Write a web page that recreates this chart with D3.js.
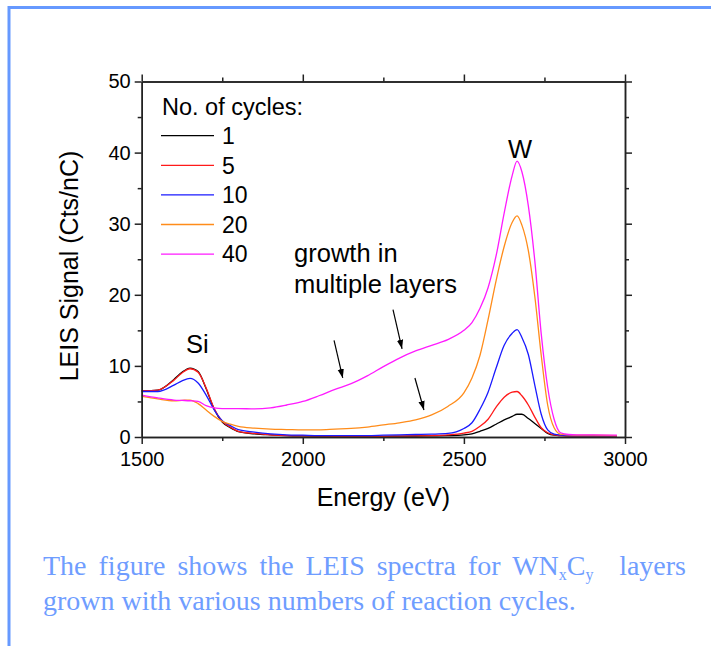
<!DOCTYPE html>
<html>
<head>
<meta charset="utf-8">
<script src="https://cdn.jsdelivr.net/npm/d3@7"></script>
<style>
  body { margin: 0; background: #fff; }
  svg { display: block; }
  .axis text { font-family: "Liberation Sans", Arial, sans-serif; font-size: 20px; fill: #000; }
  .axis path, .axis line { stroke: #222; stroke-width: 1.5px; }
</style>
</head>
<body>
<svg id="chart" width="711" height="646"></svg>
<script>
// energy grid (eV) shared by all spectra
const energy = [1500, 1550, 1600, 1625, 1650, 1675, 1700, 1725, 1750, 1775, 1800, 1850, 1900, 1950,
  2000, 2050, 2100, 2150, 2200, 2250, 2300, 2350, 2400, 2450, 2500, 2525, 2550, 2575, 2600, 2625,
  2650, 2665, 2680, 2700, 2720, 2740, 2760, 2780, 2800, 2825, 2850, 2900, 2975];

// LEIS signal (Cts/nC) for each number of cycles
const cyc1 = [6.5, 6.6, 8.1, 9.1, 9.7, 9.2, 6.8, 3.9, 2.1, 1.3, 0.75, 0.45, 0.3, 0.2,
  0.15, 0.12, 0.1, 0.1, 0.1, 0.1, 0.12, 0.14, 0.17, 0.2, 0.3, 0.45, 0.8, 1.2, 1.8, 2.4,
  2.9, 3.2, 3.2, 2.6, 1.9, 1.2, 0.5, 0.25, 0.2, 0.15, 0.15, 0.15, 0.15];
const cyc5 = [6.5, 6.6, 8.0, 9.0, 9.6, 9.1, 6.9, 4.0, 2.2, 1.4, 0.8, 0.5, 0.3, 0.2,
  0.15, 0.12, 0.1, 0.1, 0.1, 0.1, 0.12, 0.15, 0.2, 0.3, 0.55, 0.8, 1.5, 2.5, 4.2, 5.6,
  6.3, 6.4, 5.8, 4.5, 2.8, 1.3, 0.6, 0.3, 0.2, 0.15, 0.15, 0.15, 0.15];
const cyc10 = [6.4, 6.4, 7.3, 7.9, 8.25, 7.6, 5.9, 3.8, 2.3, 1.6, 1.05, 0.7, 0.45, 0.3,
  0.25, 0.2, 0.2, 0.2, 0.2, 0.25, 0.3, 0.35, 0.4, 0.5, 1.2, 2.0, 3.9, 6.3, 9.7, 12.9,
  14.6, 15.1, 14.0, 11.6, 7.3, 3.2, 1.0, 0.4, 0.25, 0.2, 0.2, 0.2, 0.2];
const cyc20 = [5.7, 5.35, 5.1, 5.15, 5.2, 4.7, 3.8, 2.9, 2.2, 1.8, 1.5, 1.25, 1.1, 1.05,
  1.0, 1.0, 1.1, 1.2, 1.4, 1.7, 2.0, 2.4, 3.1, 4.3, 6.2, 8.3, 11.5, 16.5, 22.0, 26.8,
  30.2, 31.1, 29.8, 26.2, 19.8, 11.5, 4.5, 1.3, 0.4, 0.3, 0.25, 0.25, 0.2];
const cyc40 = [5.9, 5.5, 5.2, 5.15, 5.1, 5.0, 4.4, 4.1, 4.0, 4.0, 4.0, 3.95, 4.1, 4.5,
  5.0, 5.8, 6.7, 7.5, 8.6, 9.9, 11.1, 12.1, 12.9, 13.7, 15.0, 16.1, 18.1, 21.0, 25.5, 31.5,
  36.8, 38.8, 37.3, 32.5, 24.8, 14.5, 7.0, 2.5, 0.6, 0.35, 0.3, 0.3, 0.25];

const cycleLabels = ["1", "5", "10", "20", "40"];
const xTicksMajor = [1500, 2000, 2500, 3000];
const xTicksMinor = [1750, 2250, 2750];
const yTicksMajor = [0, 10, 20, 30, 40, 50];
const yTicksMinor = [5, 15, 25, 35, 45];

const seriesValues = [cyc1, cyc5, cyc10, cyc20, cyc40];
const lineColors = ["#000000", "#ff1a1a", "#1a1aff", "#ff8c1a", "#ff1aff"];
const font = "'Liberation Sans', Arial, sans-serif";

let svg = d3.select("#chart");

// slide frame
svg.append("line").attr("x1", 8).attr("x2", 711).attr("y1", 7.5).attr("y2", 7.5)
  .attr("stroke", "#6699ff").attr("stroke-width", 3);
svg.append("line").attr("x1", 9).attr("x2", 9).attr("y1", 6).attr("y2", 646)
  .attr("stroke", "#6699ff").attr("stroke-width", 3);

let plotLeft = 141.7, plotRight = 625, plotTop = 81.5, plotBottom = 437;

let xScale = d3.scaleLinear().domain([1500, 3000]).range([plotLeft, plotRight]);
let yScale = d3.scaleLinear().domain([0, 50]).range([plotBottom, plotTop]);

// curves
let line = d3.line()
  .x(d => xScale(d[0]))
  .y(d => yScale(d[1]))
  .curve(d3.curveMonotoneX);

let plot = svg.append("g");
seriesValues.forEach(function (vals, i) {
  plot.append("path")
    .datum(energy.map((e, j) => [e, vals[j]]))
    .attr("d", line)
    .attr("fill", "none")
    .attr("stroke", lineColors[i])
    .attr("stroke-width", 1.3);
});

// axes, ticks outward on all four sides
function addAxis(axisFn, scale, ticks, size, labels, transform, padding) {
  let ax = axisFn(scale).tickValues(ticks).tickSize(size).tickSizeOuter(0).tickPadding(padding || 3);
  if (!labels) ax.tickFormat("");
  else ax.tickFormat(d3.format("d"));
  return svg.append("g").attr("class", "axis").attr("transform", transform).call(ax);
}
addAxis(d3.axisBottom, xScale, xTicksMinor, 4, false, "translate(0," + plotBottom + ")");
addAxis(d3.axisBottom, xScale, xTicksMajor, 7, true, "translate(0," + plotBottom + ")", 8);
addAxis(d3.axisTop, xScale, xTicksMinor, 4, false, "translate(0," + plotTop + ")");
addAxis(d3.axisTop, xScale, xTicksMajor, 7, false, "translate(0," + plotTop + ")");
addAxis(d3.axisLeft, yScale, yTicksMinor, 4, false, "translate(" + plotLeft + ",0)");
addAxis(d3.axisLeft, yScale, yTicksMajor, 7, true, "translate(" + plotLeft + ",0)", 4);
addAxis(d3.axisRight, yScale, yTicksMinor, 4, false, "translate(" + plotRight + ",0)");
addAxis(d3.axisRight, yScale, yTicksMajor, 7, false, "translate(" + plotRight + ",0)");

// axis titles
svg.append("text")
  .attr("x", (plotLeft + plotRight) / 2).attr("y", 506)
  .attr("text-anchor", "middle")
  .style("font-family", font).style("font-size", "25px")
  .text("Energy (eV)");
svg.append("text")
  .attr("transform", "translate(78," + 266 + ") rotate(-90)")
  .attr("text-anchor", "middle")
  .style("font-family", font).style("font-size", "25px")
  .text("LEIS Signal (Cts/nC)");

// legend
let legend = svg.append("g");
legend.append("text").attr("x", 162).attr("y", 115)
  .style("font-family", font).style("font-size", "23.5px")
  .text("No. of cycles:");
cycleLabels.forEach(function (lab, i) {
  let ly = 135.7 + i * 29.6;
  legend.append("line").attr("x1", 161).attr("x2", 214).attr("y1", ly).attr("y2", ly)
    .attr("stroke", lineColors[i]).attr("stroke-width", 1.3);
  legend.append("text").attr("x", 222).attr("y", ly + 8.3)
    .style("font-family", font).style("font-size", "23px")
    .text(lab);
});

// annotations
function note(e, v, txt, anchor) {
  svg.append("text").attr("x", xScale(e)).attr("y", yScale(v))
    .attr("text-anchor", anchor || "start")
    .style("font-family", font).style("font-size", "25.5px")
    .text(txt);
}
note(1673, 11.8, "Si", "middle");
note(2674, 39.3, "W", "middle");
note(1973, 24.6, "growth in");
note(1973, 20.25, "multiple layers");

svg.append("defs").append("marker")
  .attr("id", "head").attr("viewBox", "0 0 10 10")
  .attr("refX", 10).attr("refY", 5)
  .attr("markerWidth", 9).attr("markerHeight", 9)
  .attr("markerUnits", "userSpaceOnUse")
  .attr("orient", "auto")
  .append("path").attr("d", "M0,1.5 L10,5 L0,8.5 Z").attr("fill", "#000");

const arrows = [[2097, 13.6, 2124, 8.3], [2280, 17.9, 2308, 12.4], [2348, 8.3, 2376, 3.8]];
arrows.forEach(function (a) {
  svg.append("line")
    .attr("x1", xScale(a[0])).attr("y1", yScale(a[1]))
    .attr("x2", xScale(a[2])).attr("y2", yScale(a[3]))
    .attr("stroke", "#000").attr("stroke-width", 1.2)
    .attr("marker-end", "url(#head)");
});

// caption (first line justified)
let cap = svg.append("g")
  .style("font-family", "'Liberation Serif', 'Times New Roman', serif")
  .style("font-size", "28px").style("fill", "#6f9dff");
let t1 = cap.append("text").attr("x", 43).attr("y", 575).style("word-spacing", "5px");
t1.append("tspan").text("The figure shows the LEIS spectra for WN");
t1.append("tspan").attr("dy", 5).style("font-size", "16px").text("x");
t1.append("tspan").attr("dy", -5).text("C");
t1.append("tspan").attr("dy", 5).style("font-size", "16px").text("y");
cap.append("text").attr("x", 686).attr("y", 575).attr("text-anchor", "end").text("layers");
cap.append("text").attr("x", 43).attr("y", 610).text("grown with various numbers of reaction cycles.");
</script>
</body>
</html>
